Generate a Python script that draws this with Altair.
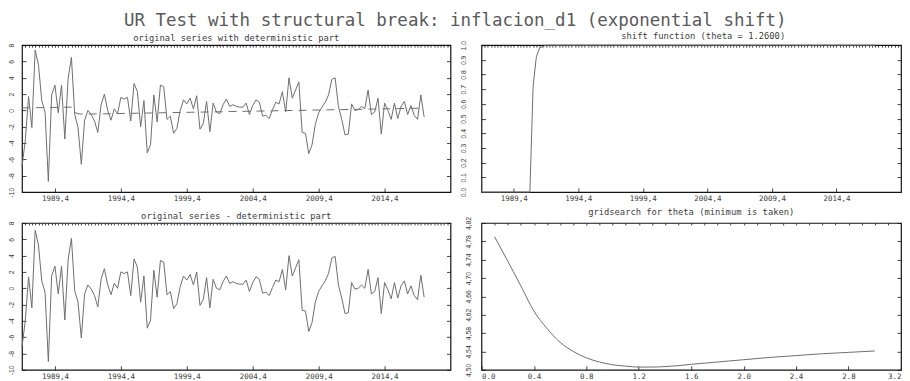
import altair as alt
import pandas as pd

# ---------------- data ----------------
first_t = 1987.25          # 1987 Q2, quarterly observations
residual = [
    -7.2, -4.0, 1.4, -2.4, 7.1, 5.3, 0.9, -0.5, -9.0, 1.5,
    2.7, -0.7, 2.7, -3.9, 3.5, 6.1, -0.3, -1.7, -6.1, -0.7,
    0.4, -0.1, -0.9, -2.3, 1.1, 2.4, 0.4, -0.8, 0.6, 0.0,
    2.0, 1.8, 2.0, -0.9, 3.6, 2.6, -1.7, 1.5, -4.9, -3.9,
    2.2, -1.1, 3.4, 3.2, -0.8, -0.4, -2.5, -1.9, 0.2, 1.5,
    1.0, 1.7, 0.4, 2.0, -2.1, -1.4, 1.3, -2.4, 1.1, 0.0,
    -0.2, 0.8, 1.5, 0.6, 0.8, 0.6, 0.5, 0.5, 1.0, -0.4,
    0.7, 1.4, 1.1, -0.6, -0.5, -0.9, 0.1, 1.0, 0.8, 2.3,
    -0.2, 4.0, 1.5, 2.5, 3.5, -2.7, -2.8, -5.3, -4.2, -1.7,
    -0.4, 0.3, 0.9, 1.8, 3.7, 3.9, 0.4, -1.2, -3.1, -3.0,
    0.7, -0.1, 0.0, 0.4, 0.0, 2.3, -0.7, -0.4, 1.3, -3.1,
    0.7, -0.2, -1.3, 0.7, -1.2, 0.3, 0.9, -0.7, 0.3, -0.9,
    -1.4, 1.6, -1.1,
]
original = [
    -6.9, -3.7, 1.7, -2.1, 7.4, 5.6, 1.2, -0.2, -8.7, 1.9,
    3.1, -0.3, 3.1, -3.5, 3.9, 6.5, -0.5, -2.1, -6.6, -1.2,
    0.0, -0.5, -1.3, -2.7, 0.7, 2.0, 0.0, -1.2, 0.2, -0.4,
    1.6, 1.4, 1.6, -1.3, 3.3, 2.3, -2.0, 1.2, -5.2, -4.2,
    1.9, -1.4, 3.1, 2.9, -1.1, -0.7, -2.8, -2.2, 0.0, 1.3,
    0.8, 1.5, 0.2, 1.8, -2.3, -1.6, 1.1, -2.6, 0.9, -0.2,
    -0.4, 0.7, 1.4, 0.5, 0.7, 0.5, 0.4, 0.4, 0.9, -0.5,
    0.6, 1.3, 1.0, -0.7, -0.6, -1.0, 0.1, 1.0, 0.8, 2.3,
    -0.2, 4.0, 1.5, 2.5, 3.5, -2.7, -2.8, -5.3, -4.2, -1.7,
    -0.3, 0.4, 1.0, 1.9, 3.8, 4.0, 0.5, -1.1, -3.0, -2.9,
    0.8, 0.0, 0.1, 0.5, 0.2, 2.5, -0.5, -0.2, 1.5, -2.9,
    0.9, 0.0, -1.1, 0.9, -1.0, 0.5, 1.1, -0.5, 0.6, -0.6,
    -1.1, 1.9, -0.8,
]
det_t = [1987.25, 1991.0, 1991.25, 1991.5, 1991.75, 1992.25, 2017.75]
det_v = [0.30, 0.41, -0.23, -0.40, -0.45, -0.45, 0.28]

shift_t = [1987.25, 1991.0, 1991.25, 1991.5, 1991.75, 1992.0, 1992.25, 2017.75]
shift_v = [0.0, 0.0, 0.72, 0.92, 0.98, 0.99, 1.0, 1.0]

theta = [0.1, 0.2, 0.3, 0.4, 0.5, 0.6, 0.7, 0.8, 0.9, 1.0, 1.1, 1.2,
         1.3, 1.4, 1.5, 1.6, 1.8, 2.0, 2.2, 2.4, 2.6, 2.8, 3.0]
crit = [4.790, 4.737, 4.683, 4.628, 4.590, 4.560, 4.540, 4.526, 4.517,
        4.511, 4.508, 4.506, 4.506, 4.507, 4.509, 4.512, 4.517, 4.522,
        4.527, 4.531, 4.535, 4.538, 4.541]

date_ticks = [1989.75, 1994.75, 1999.75, 2004.75, 2009.75, 2014.75]
date_minor = [1987.5 + 0.25 * k for k in range(129)]
ser_ticks = [-10, -8, -6, -4, -2, 0, 2, 4, 6, 8]
shift_ticks = [0.0, 0.1, 0.2, 0.3, 0.4, 0.5, 0.6, 0.7, 0.8, 0.9, 1.0]
theta_ticks = [0.0, 0.4, 0.8, 1.2, 1.6, 2.0, 2.4, 2.8, 3.2]
theta_minor = [0.1 * k for k in range(1, 32)]
crit_ticks = [4.50, 4.54, 4.58, 4.62, 4.66, 4.70, 4.74, 4.78, 4.82]

main_title = "UR Test with structural break: inflacion_d1 (exponential shift)"
titles = ["original series with deterministic part",
          "shift function (theta = 1.2600)",
          "original series - deterministic part",
          "gridsearch for theta (minimum is taken)"]

series_df = pd.DataFrame({
    "t": [first_t + 0.25 * i for i in range(len(residual))],
    "original": original,
    "residual": residual,
})
det_df = pd.DataFrame({"t": det_t, "original": det_v})
shift_df = pd.DataFrame({"t": shift_t, "shift": shift_v})
grid_df = pd.DataFrame({"theta": theta, "crit": crit})

# ---------------- styling ----------------
FONT = "DejaVu Sans Mono"
YFONT = "Liberation Sans"
INK = "#141414"
LINE = "#6e6e6e"
TXT = "#3c3c3c"
LW, RW, PH = 429, 420, 147

date_expr = "floor(datum.value) + ',' + (round((datum.value - floor(datum.value)) * 4) + 1)"
date_scale = alt.Scale(domain=[1987.25, 2019.75], nice=False, zero=False)
ser_scale = alt.Scale(domain=[-10, 8], nice=False, zero=False)
shift_scale = alt.Scale(domain=[0, 1], nice=False, zero=False)
theta_scale = alt.Scale(domain=[0, 3.2], nice=False, zero=False)
crit_scale = alt.Scale(domain=[4.50, 4.82], nice=False, zero=False)


def bottom_axis(values, expr, flush=False):
    return alt.Axis(orient="bottom", values=values, labelExpr=expr, offset=-4,
                    tickSize=4, labelPadding=3, labelFlush=flush, labelOverlap=False)


def left_axis(values, expr, pad):
    return alt.Axis(orient="left", values=values, labelExpr=expr, offset=-4,
                    tickSize=4, labelPadding=pad, labelAngle=270,
                    labelAlign="center", labelBaseline="bottom",
                    labelFont=YFONT, labelFontSize=6.8,
                    labelFlush=False, labelOverlap=False)


def top_axis(values):
    return alt.Axis(orient="top", values=values, labels=False, offset=-2, tickSize=2)


def right_axis(values):
    return alt.Axis(orient="right", values=values, labels=False, offset=-4, tickSize=4)


def ptitle(text, dx=0):
    return alt.TitleParams(text=text, font=FONT, fontSize=8.8, fontWeight="normal",
                           color=TXT, offset=0, anchor="middle", dx=dx)


# top-left: original series with deterministic part
tl_det = alt.Chart(det_df).mark_line(color=LINE, strokeWidth=1, strokeDash=[8, 6]).encode(
    x=alt.X("t:Q", scale=date_scale, axis=None),
    y=alt.Y("original:Q", scale=ser_scale, axis=None),
)
tl_line = alt.Chart(series_df).mark_line(color=LINE, strokeWidth=1).encode(
    x=alt.X("t:Q", scale=date_scale, axis=bottom_axis(date_ticks, date_expr), title=None),
    y=alt.Y("original:Q", scale=ser_scale, axis=left_axis(ser_ticks, "'' + datum.value", 7), title=None),
)
tl_mirror = alt.Chart(series_df).mark_line(opacity=0).encode(
    x=alt.X("t:Q", scale=date_scale, axis=top_axis(date_minor), title=None),
    y=alt.Y("original:Q", scale=ser_scale, axis=right_axis(ser_ticks), title=None),
)
tl = alt.layer(tl_det, tl_line, tl_mirror).resolve_axis(x="independent", y="independent").properties(
    width=LW, height=PH, title=ptitle(titles[0]))

# top-right: shift function
tr_line = alt.Chart(shift_df).mark_line(color=LINE, strokeWidth=1).encode(
    x=alt.X("t:Q", scale=date_scale, axis=bottom_axis(date_ticks, date_expr), title=None),
    y=alt.Y("shift:Q", scale=shift_scale, axis=left_axis(shift_ticks, "format(datum.value, '.1f')", 15), title=None),
)
tr_mirror = alt.Chart(shift_df).mark_line(opacity=0).encode(
    x=alt.X("t:Q", scale=date_scale, axis=top_axis(date_minor), title=None),
    y=alt.Y("shift:Q", scale=shift_scale, axis=right_axis(shift_ticks), title=None),
)
tr = alt.layer(tr_line, tr_mirror).resolve_axis(x="independent", y="independent").properties(
    width=RW, height=PH, title=ptitle(titles[1], dx=12))

# bottom-left: residual series
bl_line = alt.Chart(series_df).mark_line(color=LINE, strokeWidth=1).encode(
    x=alt.X("t:Q", scale=date_scale, axis=bottom_axis(date_ticks, date_expr), title=None),
    y=alt.Y("residual:Q", scale=ser_scale, axis=left_axis(ser_ticks, "'' + datum.value", 7), title=None),
)
bl_mirror = alt.Chart(series_df).mark_line(opacity=0).encode(
    x=alt.X("t:Q", scale=date_scale, axis=top_axis(date_minor), title=None),
    y=alt.Y("residual:Q", scale=ser_scale, axis=right_axis(ser_ticks), title=None),
)
bl = alt.layer(bl_line, bl_mirror).resolve_axis(x="independent", y="independent").properties(
    width=LW, height=PH, title=ptitle(titles[2]))

# bottom-right: grid search
br_line = alt.Chart(grid_df).mark_line(color=LINE, strokeWidth=1, interpolate="monotone").encode(
    x=alt.X("theta:Q", scale=theta_scale,
            axis=bottom_axis(theta_ticks, "format(datum.value, '.1f')", flush=True), title=None),
    y=alt.Y("crit:Q", scale=crit_scale,
            axis=left_axis(crit_ticks, "replace(format(datum.value, '.2f'), '.', ',')", 10), title=None),
)
br_mirror = alt.Chart(grid_df).mark_line(opacity=0).encode(
    x=alt.X("theta:Q", scale=theta_scale, axis=top_axis(theta_minor), title=None),
    y=alt.Y("crit:Q", scale=crit_scale, axis=right_axis(crit_ticks), title=None),
)
br = alt.layer(br_line, br_mirror).resolve_axis(x="independent", y="independent").properties(
    width=RW, height=PH, title=ptitle(titles[3]))

chart = alt.concat(tl, tr, bl, br, columns=2, spacing={"row": 31, "column": 31},
                   bounds="flush").properties(
    title=alt.TitleParams(text=main_title, font=FONT, fontSize=17.5, fontWeight="normal",
                          color="#5a5a5a", anchor="middle", offset=1.5),
    padding={"left": 0, "top": 3, "right": 0, "bottom": 0},
    background="white",
).configure_view(
    stroke=INK, strokeWidth=1.2
).configure_axis(
    labelFont=FONT, labelFontSize=7.5, labelColor=TXT,
    tickColor=INK, tickWidth=0.8, domain=False, grid=False,
)

chart.save("out.html", embed_options={"renderer": "svg", "actions": False})
